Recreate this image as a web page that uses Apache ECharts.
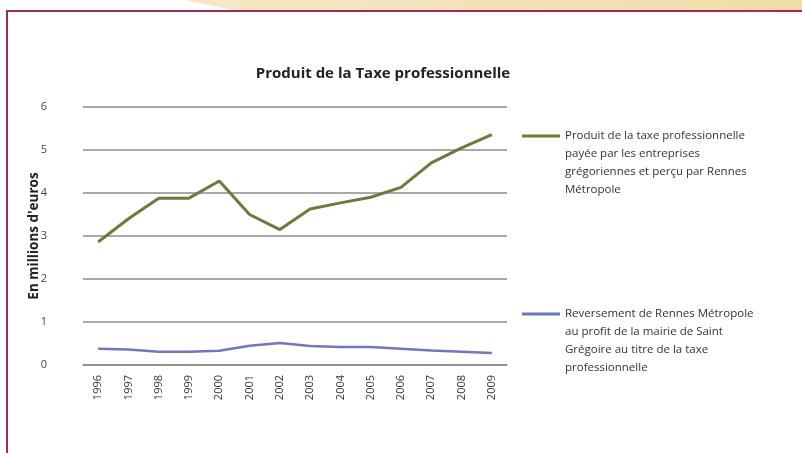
<!DOCTYPE html>
<html>
<head>
<meta charset="utf-8">
<script src="https://cdn.jsdelivr.net/npm/echarts@6/dist/echarts.min.js"></script>
<style>
  html, body { margin: 0; padding: 0; background: #ffffff; }
  #chart { width: 802px; height: 453px; }
</style>
</head>
<body>
<div id="chart"></div>
<script>
// years on the x axis
var years = ['1996', '1997', '1998', '1999', '2000', '2001', '2002', '2003', '2004', '2005', '2006', '2007', '2008', '2009'];
// millions d'euros
var produitTaxe = [2.86, 3.4, 3.88, 3.88, 4.28, 3.5, 3.15, 3.63, 3.77, 3.9, 4.13, 4.7, 5.05, 5.36];
var reversement = [0.38, 0.36, 0.31, 0.31, 0.33, 0.45, 0.51, 0.44, 0.42, 0.42, 0.38, 0.34, 0.31, 0.28];
var yTicks = [0, 1, 2, 3, 4, 5, 6];

var nomProduit = 'Produit de la taxe professionnelle\npayée par les entreprises\ngrégoriennes et perçu par Rennes\nMétropole';
var nomReversement = 'Reversement de Rennes Métropole\nau profit de la mairie de Saint\nGrégoire au titre de la taxe\nprofessionnelle';

// line drawn at the top of the icon box so it sits on the first text line
var iconTop = 'path://M0,0L38,0L38,3L0,3Z M0,56.9L0.1,56.9L0.1,57L0,57Z';

var chart = echarts.init(document.getElementById('chart'));

chart.setOption({
  backgroundColor: '#ffffff',
  animation: false,
  textStyle: { fontFamily: 'Open Sans' },
  graphic: [
    {
      type: 'polygon',
      shape: { points: [[184, 0], [802, 0], [802, 11], [238, 11]] },
      style: {
        fill: new echarts.graphic.LinearGradient(0, 0, 1, 0, [
          { offset: 0, color: '#f6e8c8' },
          { offset: 1, color: '#f0dca8' }
        ])
      },
      silent: true
    },
    {
      type: 'rect',
      shape: { x: 7, y: 11, width: 820, height: 460 },
      style: { fill: 'none', stroke: '#a02a58', lineWidth: 2 },
      silent: true
    }
  ],
  title: {
    text: 'Produit de la Taxe professionnelle',
    left: 378,
    textAlign: 'center',
    top: 61,
    textStyle: { fontSize: 15, fontWeight: 'bold', color: '#222' }
  },
  legend: [
    {
      data: [nomProduit],
      left: 522,
      top: 127,
      padding: 0,
      orient: 'vertical',
      icon: iconTop,
      itemWidth: 38,
      itemHeight: 57,
      textStyle: { fontSize: 11.5, lineHeight: 18, color: '#333' }
    },
    {
      data: [nomReversement],
      left: 522,
      top: 305,
      padding: 0,
      orient: 'vertical',
      icon: iconTop,
      itemWidth: 38,
      itemHeight: 57,
      textStyle: { fontSize: 11.5, lineHeight: 18, color: '#333' }
    }
  ],
  grid: {
    left: 83,
    right: 295,
    top: 107,
    bottom: 88
  },
  xAxis: {
    type: 'category',
    data: years,
    boundaryGap: true,
    axisLine: { lineStyle: { color: '#8c8c8c', width: 1.5 } },
    axisTick: { show: false },
    axisLabel: { rotate: 90, fontSize: 11, margin: 10, color: '#333', interval: 0 }
  },
  yAxis: {
    type: 'value',
    min: yTicks[0],
    max: yTicks[yTicks.length - 1],
    interval: 1,
    name: "En millions d'euros",
    nameLocation: 'middle',
    nameGap: 42,
    nameMoveOverlap: false,
    nameRotate: 90,
    nameTextStyle: { fontSize: 13.5, fontWeight: 'bold', color: '#222' },
    axisLine: { show: false },
    axisTick: { show: false },
    axisLabel: { fontSize: 11, margin: 36, color: '#444' },
    splitLine: { lineStyle: { color: '#8c8c8c', width: 1.5 } }
  },
  series: [
    {
      name: nomProduit,
      type: 'line',
      data: produitTaxe,
      symbol: 'none',
      itemStyle: { color: '#6d7a3c' },
      lineStyle: { color: '#6d7a3c', width: 3 }
    },
    {
      name: nomReversement,
      type: 'line',
      data: reversement,
      symbol: 'none',
      itemStyle: { color: '#6f78bd' },
      lineStyle: { color: '#6f78bd', width: 2.5 }
    }
  ]
});
</script>
</body>
</html>
